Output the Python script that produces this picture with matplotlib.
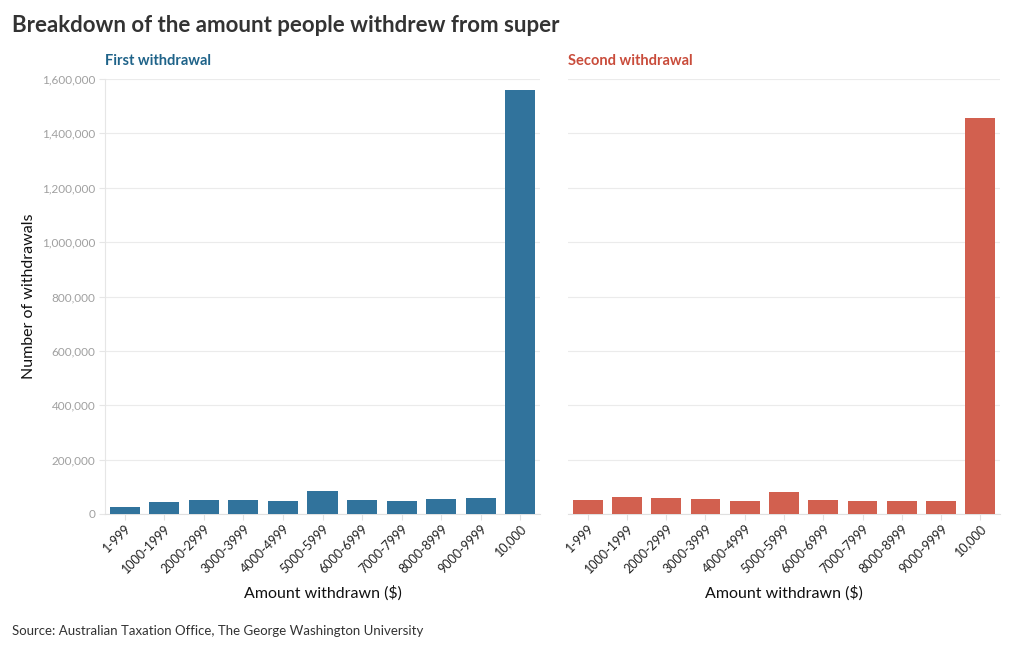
import matplotlib
matplotlib.use("Agg")
import matplotlib.pyplot as plt
from matplotlib.ticker import FuncFormatter

categories = ["1-999", "1000-1999", "2000-2999", "3000-3999", "4000-4999",
              "5000-5999", "6000-6999", "7000-7999", "8000-8999", "9000-9999", "10,000"]
first_withdrawal = [25000, 44000, 51500, 51500, 49000, 84600, 52600, 49000, 55000, 59000, 1559000]
second_withdrawal = [50000, 61000, 60000, 56000, 49000, 81000, 50000, 46700, 49000, 46700, 1456000]
yticks = [0, 200000, 400000, 600000, 800000, 1000000, 1200000, 1400000, 1600000]

FONT = ["Lato", "DejaVu Sans"]
plt.rcParams["font.family"] = FONT

W, H = 1020, 650
fig = plt.figure(figsize=(W / 100, H / 100), dpi=100)

def ax_rect(x0, x1, ytop, ybot):
    return [x0 / W, (H - ybot) / H, (x1 - x0) / W, (ybot - ytop) / H]

panels = [
    (ax_rect(105, 540, 79, 514), first_withdrawal, "#31739c", "First withdrawal", "#1f6389", True),
    (ax_rect(568, 1000, 79, 514), second_withdrawal, "#d2604f", "Second withdrawal", "#c94c3b", False),
]

x = list(range(len(categories)))
for rect, vals, col, sub, subcol, first in panels:
    ax = fig.add_axes(rect)
    ax.bar(x, vals, width=0.76, color=col, zorder=3)
    ax.set_xlim(-0.5, len(categories) - 0.5)
    ax.set_ylim(0, 1600000)
    ax.set_yticks(yticks)
    ax.grid(axis="y", color="#ebebeb", linewidth=0.8, zorder=0)
    for s in ["top", "right"]:
        ax.spines[s].set_visible(False)
    ax.spines["bottom"].set_color("#e0e0e0")
    ax.spines["bottom"].set_linewidth(0.8)
    if first:
        ax.spines["left"].set_color("#e6e6e6")
        ax.spines["left"].set_linewidth(0.8)
        ax.yaxis.set_major_formatter(FuncFormatter(lambda v, p: f"{int(v):,}"))
        ax.tick_params(axis="y", length=4, color="#e6e6e6", labelsize=8.5, labelcolor="#a0a0a0", pad=3)
        ax.set_ylabel("Number of withdrawals", fontsize=11.5, color="#111111", labelpad=4)
    else:
        ax.spines["left"].set_visible(False)
        ax.tick_params(axis="y", length=0, labelleft=False)
    ax.set_xticks(x)
    ax.set_xticklabels(categories, rotation=45, ha="right", rotation_mode="anchor")
    ax.tick_params(axis="x", length=4, color="#e0e0e0", labelsize=9, labelcolor="#222222", pad=2)
    ax.set_xlabel("Amount withdrawn ($)", fontsize=11.5, color="#111111", labelpad=7)
    ax.text(0, 1.025, sub, transform=ax.transAxes, fontsize=10.5, fontweight="bold",
            color=subcol, ha="left", va="bottom")

fig.text(12 / W, 1 - 25 / H, "Breakdown of the amount people withdrew from super",
         fontsize=16, fontweight="bold", color="#333333", ha="left", va="center")
fig.text(12 / W, 1 - 631 / H, "Source: Australian Taxation Office, The George Washington University",
         fontsize=9.5, color="#333333", ha="left", va="center")

fig.savefig("out.png", dpi=100, facecolor="white")
